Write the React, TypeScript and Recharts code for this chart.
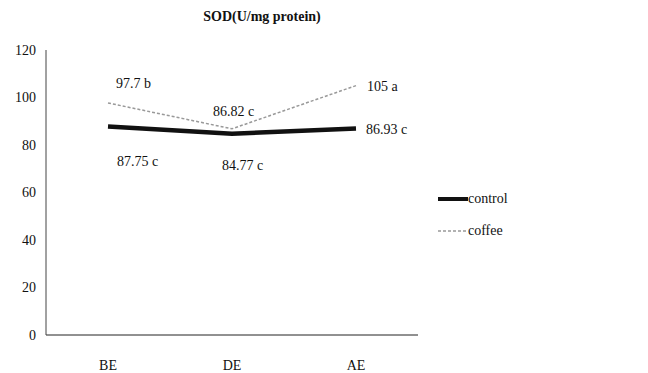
import React from "react";
import { LineChart, Line, XAxis, YAxis, LabelList } from "recharts";

const categories = ["BE", "DE", "AE"];
const controlValues = [87.75, 84.77, 86.93];
const coffeeValues = [97.7, 86.82, 105];
const controlLabels = ["87.75 c", "84.77 c", "86.93 c"];
const coffeeLabels = ["97.7 b", "86.82 c", "105 a"];
const yTicks = [0, 20, 40, 60, 80, 100, 120];

const data = categories.map((name, i) => ({
  name,
  control: controlValues[i],
  coffee: coffeeValues[i],
}));

const FONT = "'Times New Roman', Times, 'Liberation Serif', Tinos, 'Nimbus Roman', 'DejaVu Serif', serif";

// label placement relative to each point: [dx, dy, anchor]
const controlLabelPos: [number, number, string][] = [
  [9, 39, "start"],
  [-10, 36, "start"],
  [10, 5, "start"],
];
const coffeeLabelPos: [number, number, string][] = [
  [8, -15, "start"],
  [-19, -13, "start"],
  [11, 5, "start"],
];

const makeLabel = (texts: string[], pos: [number, number, string][]) => (props: any) => {
  const { x, y, index } = props;
  const [dx, dy, anchor] = pos[index];
  return (
    <text x={x + dx} y={y + dy} textAnchor={anchor as any} fontSize={14} style={{ fontFamily: FONT }} fill="#111">
      {texts[index]}
    </text>
  );
};

const LegendBox = () => (
  <div style={{ position: "absolute", left: 438, top: 189, fontFamily: FONT, fontSize: 14, color: "#111" }}>
    <div style={{ display: "flex", alignItems: "center", height: 20 }}>
      <svg width={30} height={8}>
        <line x1={0} y1={4} x2={30} y2={4} stroke="#111" strokeWidth={4} />
      </svg>
      <span>control</span>
    </div>
    <div style={{ display: "flex", alignItems: "center", height: 20, marginTop: 12 }}>
      <svg width={30} height={8}>
        <line x1={0} y1={4} x2={30} y2={4} stroke="#999" strokeWidth={1.5} strokeDasharray="3 2" />
      </svg>
      <span>coffee</span>
    </div>
  </div>
);

export default function App() {
  return (
    <div style={{ position: "absolute", left: 0, top: 0, width: 648, height: 373, background: "#fff", fontFamily: FONT }}>
      <div
        style={{
          position: "absolute",
          left: 0,
          width: 524,
          top: 9,
          textAlign: "center",
          fontFamily: FONT,
          fontWeight: "bold",
          fontSize: 14,
          color: "#111",
        }}
      >
        SOD(U/mg protein)
      </div>
      <LineChart
        width={648}
        height={373}
        data={data}
        margin={{ top: 50, right: 230, left: 0, bottom: 8 }}
        style={{ fontFamily: FONT }}
      >
        <XAxis
          dataKey="name"
          padding={{ left: 62, right: 62 }}
          axisLine={{ stroke: "#222" }}
          tickLine={false}
          tick={{ fontSize: 14, style: { fontFamily: FONT }, fill: "#111" }}
          tickMargin={19}
          height={30}
        />
        <YAxis
          domain={[0, 120]}
          ticks={yTicks}
          width={46}
          axisLine={{ stroke: "#444" }}
          tickLine={false}
          tick={{ fontSize: 14, style: { fontFamily: FONT }, fill: "#111" }}
          tickMargin={4}
        />
        <Line
          dataKey="coffee"
          stroke="#999"
          strokeWidth={1.5}
          strokeDasharray="3 2"
          dot={false}
          isAnimationActive={false}
        >
          <LabelList dataKey="coffee" content={makeLabel(coffeeLabels, coffeeLabelPos)} />
        </Line>
        <Line
          dataKey="control"
          stroke="#111"
          strokeWidth={4.5}
          dot={false}
          isAnimationActive={false}
        >
          <LabelList dataKey="control" content={makeLabel(controlLabels, controlLabelPos)} />
        </Line>
      </LineChart>
      <LegendBox />
    </div>
  );
}
